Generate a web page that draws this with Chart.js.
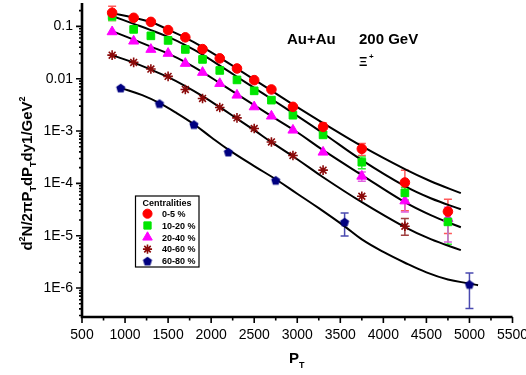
<!DOCTYPE html>
<html>
<head>
<meta charset="utf-8">
<script src="https://cdn.jsdelivr.net/npm/chart.js@4.4.0/dist/chart.umd.min.js"></script>
<style>
  html, body { margin: 0; padding: 0; background: #fff; }
  #wrap { width: 526px; height: 375px; }
</style>
</head>
<body>
<div id="wrap"><canvas id="xichart" width="526" height="375"></canvas></div>
<script>
// pT bins (MeV) and measured yields
var pt = [850, 1100, 1300, 1500, 1700, 1900, 2100, 2300, 2500, 2700, 2950, 3300, 3750, 4250, 4750]
var pt4060 = [850, 1100, 1300, 1500, 1700, 1900, 2100, 2300, 2500, 2700, 2950, 3300, 3750, 4250]
var pt6080 = [950, 1400, 1800, 2200, 2750, 3550, 5000]

var y05 = [0.182, 0.146, 0.122, 0.085, 0.0617, 0.0368, 0.0245, 0.0157, 0.0094, 0.00624, 0.0029, 0.0012, 0.000457, 0.000104, 0.000029]
var y1020 = [0.16, 0.0877, 0.066, 0.054, 0.0363, 0.0234, 0.0144, 0.0095, 0.00587, 0.0039, 0.00201, 0.000845, 0.000254, 0.000066, 0.0000184]
var y2040 = [0.0788, 0.0523, 0.0363, 0.0305, 0.0196, 0.0132, 0.0081, 0.00485, 0.0029, 0.00193, 0.00104, 0.000395, 0.000137, 0.0000462, 0.0000213]
var y4060 = [0.0282, 0.0205, 0.0153, 0.0111, 0.00624, 0.0042, 0.00282, 0.00179, 0.00112, 0.00062, 0.000341, 0.000179, 0.0000569, 0.0000152]
var y6080 = [0.0067, 0.00337, 0.00134, 0.0004, 0.000115, 0.0000184, 0.00000118]

// error bars [low, high], null where too small to see
var err05 = [[0.13, 0.244], null, null, null, null, null, null, null, null, null, null, [0.00097, 0.00143], [0.00034, 0.00058], [0.00003, 0.000179], [0.000011, 0.00005]]
var err1020 = [[0.13, 0.19], null, null, null, null, null, null, null, null, null, null, null, [0.00019, 0.00032], [0.000048, 0.000084], [0.0000069, 0.00003]]
var err2040 = [null, null, null, null, null, null, null, null, null, null, null, null, [0.00011, 0.000165], [0.0000285, 0.000064], [0.0000076, 0.000035]]
var err4060 = [null, null, null, null, null, null, null, null, null, null, null, null, null, [0.0000102, 0.0000213]]
var err6080 = [null, null, null, null, null, [0.0000099, 0.0000273], [0.000000406, 0.00000195]]

// fitted curves
var fitX = [850, 1100, 1300, 1500, 1700, 1900, 2100, 2300, 2500, 2700, 3000, 3300, 3750, 4250, 4550, 4900]
var fit05 = [0.1795, 0.147, 0.121, 0.0869, 0.0611, 0.0402, 0.0253, 0.0156, 0.00961, 0.00592, 0.00286, 0.00142, 0.000514, 0.000187, 0.00011, 0.000065]
var fit1020 = [0.158, 0.112, 0.085, 0.063, 0.044, 0.029, 0.0178, 0.0109, 0.0067, 0.0041, 0.00195, 0.00091, 0.000278, 0.0000885, 0.000052, 0.000032]
var fit2040 = [0.0813, 0.056, 0.0411, 0.0302, 0.0208, 0.01337, 0.00824, 0.00508, 0.00313, 0.00193, 0.00095, 0.000431, 0.000144, 0.0000437, 0.0000247, 0.0000145]
var fit4060 = [0.0282, 0.0203, 0.0149, 0.0107, 0.00722, 0.00464, 0.00286, 0.00173, 0.00104, 0.000613, 0.00029, 0.000131, 0.0000437, 0.0000146, 0.0000086, 0.0000053]
var fit6080X = [950, 1200, 1400, 1600, 1800, 2000, 2200, 2500, 2750, 3000, 3250, 3550, 3750, 4000, 4250, 4500, 4750, 5000, 5100]
var fit6080 = [0.0067, 0.00485, 0.00341, 0.0022, 0.00135, 0.000762, 0.000441, 0.000214, 0.00012, 0.0000635, 0.0000336, 0.0000151, 0.0000085, 0.0000049, 0.00000305, 0.000002, 0.00000146, 0.00000122, 0.00000113]

var labels = ['0-5 %', '10-20 %', '20-40 %', '40-60 %', '60-80 %']
var xTickValues = [500, 1000, 1500, 2000, 2500, 3000, 3500, 4000, 4500, 5000, 5500]
var xTickLabels = ['500', '1000', '1500', '2000', '2500', '3000', '3500', '4000', '4500', '5000', '5500']
var yTickValues = [0.1, 0.01, 0.001, 0.0001, 0.00001, 0.000001]
var yTickLabels = ['0.1', '0.01', '1E-3', '1E-4', '1E-5', '1E-6']
var legendTitle = 'Centralities'
var systemText = 'Au+Au', energyText = '200 GeV', particleText = 'Ξ', particleCharge = '+'

var FONT = '"Liberation Sans", Arial, sans-serif'

function pairs(xs, ys) {
    return ys.map((v, i) => ({ x: xs[i], y: v }))
}

function pentagon(color, r) {
    let c = document.createElement('canvas')
    c.width = c.height = Math.ceil(r * 2 + 2)
    let ctx = c.getContext('2d'), m = c.width / 2
    ctx.beginPath()
    for (let i = 0; i < 5; i++) {
        let a = -Math.PI / 2 + i * 2 * Math.PI / 5
        ctx.lineTo(m + r * Math.cos(a), m + 0.5 + r * Math.sin(a))
    }
    ctx.closePath()
    ctx.fillStyle = color
    ctx.fill()
    return c
}

function pointSet(label, xs, ys, errs, color, barColor, style, radius) {
    return {
        label: label, data: pairs(xs, ys), errors: errs, barColor: barColor,
        pointStyle: style, pointRadius: radius, pointBackgroundColor: color,
        pointBorderColor: color, pointBorderWidth: style == 'star' ? 1.6 : 1,
        showLine: false, order: 1
    }
}

function fitSet(xs, ys) {
    return {
        label: 'fit', data: pairs(xs, ys), showLine: true, pointRadius: 0,
        borderColor: '#000', borderWidth: 2, tension: 0.4,
        fill: false, order: 2
    }
}

var series = [
    pointSet(labels[0], pt, y05, err05, '#ff0000', '#ff5a5a', 'circle', 4.8),
    pointSet(labels[1], pt, y1020, err1020, '#00e600', '#33ee33', 'rect', 5.4),
    pointSet(labels[2], pt, y2040, err2040, '#ff00ff', '#e060e0', 'triangle', 5.8),
    pointSet(labels[3], pt4060, y4060, err4060, '#8b0a0a', '#a04040', 'star', 4.8),
    pointSet(labels[4], pt6080, y6080, err6080, '#000080', '#4a4ab0', pentagon('#000080', 4.8), 4.8)
]

var fits = [fitSet(fitX, fit05), fitSet(fitX, fit1020), fitSet(fitX, fit2040), fitSet(fitX, fit4060), fitSet(fit6080X, fit6080)]

function findTick(v, list) {
    return list.findIndex(t => Math.abs(v / t - 1) < 1e-6)
}

// error bars under the markers
var errorBars = {
    id: 'errorBars',
    beforeDatasetsDraw(chart) {
        let ctx = chart.ctx, xs = chart.scales.x, ys = chart.scales.y
        ctx.save()
        chart.data.datasets.forEach(ds => {
            if (!ds.errors) return
            ds.errors.forEach((e, j) => {
                if (!e) return
                let px = xs.getPixelForValue(ds.data[j].x)
                let lo = ys.getPixelForValue(e[0]), hi = ys.getPixelForValue(e[1])
                ctx.strokeStyle = ds.barColor
                ctx.lineWidth = 1.5
                ctx.beginPath()
                ctx.moveTo(px, lo); ctx.lineTo(px, hi)
                ctx.moveTo(px - 4, lo); ctx.lineTo(px + 4, lo)
                ctx.moveTo(px - 4, hi); ctx.lineTo(px + 4, hi)
                ctx.stroke()
            })
        })
        ctx.restore()
    }
}

function richWidth(ctx, parts, size) {
    let w = 0
    parts.forEach(p => {
        ctx.font = 'bold ' + (p[1] == 'n' ? size : Math.round(size * 0.62)) + 'px ' + FONT
        w += ctx.measureText(p[0]).width
    })
    return w
}

// parts: [text, kind] with kind n / sub / sup
function paintRich(ctx, parts, size, x, y) {
    parts.forEach(p => {
        let small = p[1] != 'n'
        ctx.font = 'bold ' + (small ? Math.round(size * 0.62) : size) + 'px ' + FONT
        let dy = p[1] == 'sup' ? -size * 0.42 : (p[1] == 'sub' ? size * 0.3 : 0)
        ctx.fillText(p[0], x, y + dy)
        x += ctx.measureText(p[0]).width
    })
}

// axes, ticks, titles, legend
var decorations = {
    id: 'decorations',
    afterDraw(chart) {
        let ctx = chart.ctx, xs = chart.scales.x, ys = chart.scales.y, area = chart.chartArea
        ctx.save()
        ctx.strokeStyle = '#000'
        ctx.fillStyle = '#000'

        // tick marks
        ctx.lineWidth = 1.6
        ctx.beginPath()
        for (let v = 500; v <= 5500; v += 250) {
            let px = xs.getPixelForValue(v)
            ctx.moveTo(px, area.bottom)
            ctx.lineTo(px, area.bottom + (v % 500 == 0 ? 6 : 3.5))
        }
        ys.ticks.forEach(t => {
            let py = ys.getPixelForValue(t.value)
            ctx.moveTo(area.left, py)
            ctx.lineTo(area.left - (findTick(t.value, yTickValues) >= 0 ? 6 : 3), py)
        })
        ctx.stroke()

        // axis lines
        ctx.lineWidth = 2.6
        ctx.beginPath()
        ctx.moveTo(area.left, area.top)
        ctx.lineTo(area.left, area.bottom)
        ctx.lineTo(area.right, area.bottom)
        ctx.stroke()

        // annotations
        ctx.textBaseline = 'alphabetic'
        ctx.textAlign = 'left'
        ctx.font = 'bold 15px ' + FONT
        ctx.fillText(systemText, 287, 44)
        ctx.fillText(energyText, 359, 44)
        ctx.font = 'bold 13px ' + FONT
        ctx.fillText(particleText, 359, 66)
        ctx.font = 'bold 8px ' + FONT
        ctx.fillText(particleCharge, 369, 59)

        // x title
        paintRich(ctx, [['P', 'n'], ['T', 'sub']], 15, 289, 363)

        // y title
        let ytitle = [['d', 'n'], ['2', 'sup'], ['N/2πP', 'n'], ['T', 'sub'], ['dP', 'n'], ['T', 'sub'], ['dy1/GeV', 'n'], ['2', 'sup']]
        let tw = richWidth(ctx, ytitle, 15)
        ctx.save()
        ctx.translate(31.5, 173.5)
        ctx.rotate(-Math.PI / 2)
        paintRich(ctx, ytitle, 15, -tw / 2, 0)
        ctx.restore()

        // legend
        ctx.lineWidth = 1.2
        ctx.strokeRect(135.5, 196, 63.5, 71)
        ctx.font = 'bold 9px ' + FONT
        ctx.textAlign = 'center'
        ctx.fillText(legendTitle, 167, 206)
        ctx.textAlign = 'left'
        series.forEach((ds, i) => {
            let ry = 213.7 + i * 11.8
            ctx.fillStyle = ds.pointBackgroundColor
            ctx.strokeStyle = ds.pointBorderColor
            ctx.lineWidth = ds.pointBorderWidth
            Chart.helpers.drawPoint(ctx, { pointStyle: ds.pointStyle, radius: ds.pointRadius * 0.95, rotation: 0, borderWidth: ds.pointBorderWidth }, 147.5, ry)
            ctx.fillStyle = '#000'
            ctx.fillText(ds.label, 162, ry + 3.3)
        })
        ctx.restore()
    }
}

Chart.defaults.font.family = FONT
Chart.defaults.color = '#000'

new Chart(document.getElementById('xichart'), {
    type: 'scatter',
    data: { datasets: series.concat(fits) },
    options: {
        responsive: false,
        animation: false,
        events: [],
        devicePixelRatio: 1,
        layout: { autoPadding: false, padding: { top: 3, right: 13.5, left: 0, bottom: 0 } },
        plugins: { legend: { display: false }, tooltip: { enabled: false } },
        scales: {
            x: {
                type: 'linear', min: 500, max: 5500,
                grid: { display: false, drawTicks: false },
                border: { display: false },
                afterBuildTicks: scale => { scale.ticks = xTickValues.map(v => ({ value: v })) },
                ticks: {
                    font: { size: 14 }, padding: 10, maxRotation: 0, autoSkip: false,
                    callback: v => { let i = xTickValues.indexOf(v); return i >= 0 ? xTickLabels[i] : '' }
                },
                afterFit: scale => { scale.height = 58; scale.paddingLeft = 0; scale.paddingRight = 0 }
            },
            y: {
                type: 'logarithmic', min: 2.8e-7, max: 0.28,
                grid: { display: false, drawTicks: false },
                border: { display: false },
                afterBuildTicks: scale => {
                    let t = []
                    for (let k = -7; k <= -1; k++) {
                        for (let m = 1; m <= 9; m++) {
                            let v = m * Math.pow(10, k)
                            if (v >= scale.min && v <= scale.max) t.push({ value: v })
                        }
                    }
                    scale.ticks = t
                },
                ticks: {
                    font: { size: 14 }, padding: 9, autoSkip: false,
                    callback: v => { let i = findTick(v, yTickValues); return i >= 0 ? yTickLabels[i] : '' }
                },
                afterFit: scale => { scale.width = 82; scale.paddingTop = 0; scale.paddingBottom = 0 }
            }
        }
    },
    plugins: [errorBars, decorations]
})
</script>
</body>
</html>
